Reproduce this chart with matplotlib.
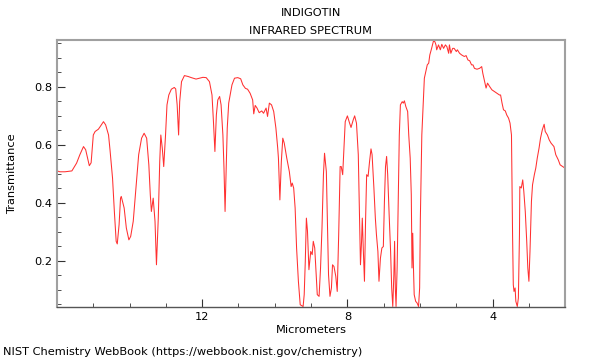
import matplotlib
matplotlib.use('Agg')
import matplotlib.pyplot as plt
import numpy as np
from matplotlib.ticker import MultipleLocator, FixedLocator

# wavelength (micrometers) and transmittance
microns = [16.00, 15.92, 15.78, 15.59, 15.46, 15.37, 15.27, 15.21, 15.11, 15.06,
           15.00, 14.95, 14.86, 14.81, 14.72, 14.66, 14.58, 14.54, 14.47, 14.42,
           14.37, 14.34, 14.29, 14.25, 14.23, 14.15, 14.09, 14.02, 13.97, 13.90,
           13.81, 13.75, 13.67, 13.60, 13.53, 13.47, 13.43, 13.40, 13.35, 13.30,
           13.26, 13.21, 13.17, 13.14, 13.10, 13.06, 13.01, 12.97, 12.92, 12.85,
           12.77, 12.73, 12.69, 12.65, 12.62, 12.57, 12.49, 12.39, 12.30, 12.17,
           12.07, 11.98, 11.89, 11.80, 11.73, 11.69, 11.65, 11.61, 11.57, 11.52,
           11.48, 11.43, 11.40, 11.37, 11.34, 11.31, 11.27, 11.23, 11.18, 11.11,
           11.02, 10.94, 10.88, 10.81, 10.75, 10.68, 10.61, 10.58, 10.54, 10.49,
           10.43, 10.36, 10.31, 10.24, 10.20, 10.15, 10.09, 10.03, 9.97, 9.92,
           9.90, 9.86, 9.82, 9.78, 9.74, 9.67, 9.60, 9.55, 9.52, 9.48,
           9.44, 9.40, 9.35, 9.30, 9.22, 9.19, 9.16, 9.13, 9.10, 9.06,
           9.01, 8.97, 8.94, 8.90, 8.87, 8.83, 8.78, 8.74, 8.70, 8.66,
           8.63, 8.58, 8.55, 8.52, 8.48, 8.44, 8.41, 8.37, 8.32, 8.28,
           8.24, 8.20, 8.17, 8.13, 8.09, 8.06, 8.00, 7.94, 7.90, 7.84,
           7.80, 7.75, 7.70, 7.67, 7.64, 7.61, 7.59, 7.56, 7.53, 7.50,
           7.47, 7.43, 7.39, 7.35, 7.32, 7.27, 7.23, 7.20, 7.16, 7.13,
           7.09, 7.05, 7.01, 6.98, 6.95, 6.92, 6.89, 6.85, 6.81, 6.78,
           6.75, 6.72, 6.70, 6.68, 6.66, 6.63, 6.60, 6.57, 6.54, 6.49,
           6.46, 6.43, 6.39, 6.34, 6.31, 6.27, 6.24, 6.23, 6.22, 6.20,
           6.18, 6.16, 6.12, 6.08, 6.04, 6.01, 5.99, 5.95, 5.91, 5.88,
           5.84, 5.80, 5.76, 5.73, 5.68, 5.63, 5.59, 5.56, 5.54, 5.49,
           5.44, 5.40, 5.35, 5.30, 5.26, 5.21, 5.19, 5.15, 5.10, 5.06,
           5.00, 4.97, 4.91, 4.85, 4.78, 4.73, 4.68, 4.63, 4.58, 4.54,
           4.50, 4.43, 4.36, 4.30, 4.27, 4.22, 4.18, 4.14, 4.08, 4.02,
           3.95, 3.88, 3.81, 3.78, 3.74, 3.70, 3.65, 3.61, 3.56, 3.52,
           3.48, 3.47, 3.45, 3.43, 3.41, 3.38, 3.36, 3.32, 3.29, 3.26,
           3.25, 3.21, 3.17, 3.14, 3.10, 3.06, 3.03, 3.00, 2.97, 2.93,
           2.90, 2.85, 2.81, 2.77, 2.72, 2.68, 2.63, 2.58, 2.55, 2.49,
           2.44, 2.39, 2.31, 2.26, 2.19, 2.14, 2.07, 2.01]

transmittance = [0.510, 0.507, 0.507, 0.510, 0.537, 0.566, 0.594, 0.583, 0.528, 0.538,
                 0.634, 0.646, 0.654, 0.663, 0.680, 0.669, 0.634, 0.583, 0.485, 0.370,
                 0.267, 0.258, 0.324, 0.416, 0.422, 0.382, 0.313, 0.272, 0.284, 0.336,
                 0.473, 0.566, 0.623, 0.640, 0.623, 0.531, 0.428, 0.370, 0.416, 0.336,
                 0.186, 0.347, 0.542, 0.634, 0.589, 0.525, 0.634, 0.738, 0.772, 0.792,
                 0.798, 0.793, 0.738, 0.634, 0.749, 0.818, 0.839, 0.836, 0.832, 0.827,
                 0.830, 0.833, 0.832, 0.818, 0.772, 0.680, 0.577, 0.703, 0.755, 0.767,
                 0.738, 0.634, 0.520, 0.370, 0.520, 0.658, 0.744, 0.772, 0.807, 0.830,
                 0.832, 0.828, 0.807, 0.795, 0.792, 0.778, 0.755, 0.707, 0.736, 0.727,
                 0.711, 0.717, 0.709, 0.727, 0.698, 0.744, 0.738, 0.715, 0.658, 0.589,
                 0.554, 0.410, 0.542, 0.623, 0.606, 0.554, 0.508, 0.456, 0.468, 0.451,
                 0.382, 0.244, 0.129, 0.048, 0.042, 0.083, 0.198, 0.347, 0.303, 0.169,
                 0.232, 0.221, 0.267, 0.244, 0.175, 0.083, 0.077, 0.175, 0.313, 0.497,
                 0.571, 0.508, 0.336, 0.152, 0.077, 0.106, 0.186, 0.180, 0.146, 0.094,
                 0.290, 0.525, 0.525, 0.497, 0.600, 0.680, 0.700, 0.675, 0.660, 0.686,
                 0.700, 0.675, 0.566, 0.382, 0.186, 0.267, 0.347, 0.232, 0.129, 0.336,
                 0.497, 0.491, 0.542, 0.586, 0.566, 0.451, 0.347, 0.290, 0.232, 0.129,
                 0.209, 0.244, 0.249, 0.405, 0.525, 0.560, 0.497, 0.359, 0.232, 0.106,
                 0.042, 0.152, 0.267, 0.106, 0.042, 0.175, 0.405, 0.634, 0.738, 0.749,
                 0.744, 0.752, 0.732, 0.715, 0.634, 0.554, 0.428, 0.290, 0.175, 0.295,
                 0.175, 0.083, 0.060, 0.054, 0.042, 0.106, 0.347, 0.634, 0.749, 0.830,
                 0.853, 0.876, 0.882, 0.910, 0.933, 0.958, 0.956, 0.945, 0.928, 0.945,
                 0.928, 0.947, 0.933, 0.945, 0.939, 0.916, 0.945, 0.916, 0.933, 0.933,
                 0.922, 0.928, 0.916, 0.910, 0.905, 0.908, 0.893, 0.890, 0.876, 0.876,
                 0.864, 0.861, 0.864, 0.870, 0.847, 0.818, 0.796, 0.813, 0.801, 0.790,
                 0.784, 0.778, 0.772, 0.772, 0.744, 0.721, 0.717, 0.703, 0.692, 0.675,
                 0.634, 0.520, 0.290, 0.117, 0.094, 0.106, 0.060, 0.042, 0.071, 0.290,
                 0.456, 0.451, 0.479, 0.439, 0.370, 0.267, 0.175, 0.129, 0.232, 0.405,
                 0.462, 0.497, 0.520, 0.554, 0.589, 0.623, 0.652, 0.671, 0.646, 0.634,
                 0.617, 0.606, 0.594, 0.566, 0.548, 0.531, 0.525, 0.520]

fig = plt.figure(figsize=(6, 3.6), dpi=100)
ax = fig.add_axes([0.095, 0.147, 0.847, 0.742])

ax.plot(microns, transmittance, color='#ff3030', linewidth=0.75)

ax.set_xlim(16, 2)
ax.set_ylim(0.04, 0.962)

ax.xaxis.set_major_locator(FixedLocator([12, 8, 4]))
ax.xaxis.set_minor_locator(MultipleLocator(1))
ax.yaxis.set_major_locator(FixedLocator([0.2, 0.4, 0.6, 0.8]))
ax.yaxis.set_minor_locator(MultipleLocator(0.05))
ax.set_yticklabels(['0.2', '0.4', '0.6', '0.8'])

ax.tick_params(which='both', direction='in', labelsize=8.2, colors='#333333', labelcolor='black')
ax.tick_params(which='major', length=6, width=0.8)
ax.tick_params(which='minor', length=3, width=0.6)

for s in ax.spines.values():
    s.set_color('#a0a0a0')
    s.set_linewidth(1.5)
ax.spines['bottom'].set_color('#555555')
ax.spines['bottom'].set_linewidth(1)

ax.set_xlabel('Micrometers', fontsize=8.2, labelpad=2)
ax.set_ylabel('Transmittance', fontsize=8.2)
ax.yaxis.set_label_coords(-0.078, 0.5)

fig.text(0.518, 0.965, 'INDIGOTIN', ha='center', va='center', fontsize=8.2)
fig.text(0.518, 0.915, 'INFRARED SPECTRUM', ha='center', va='center', fontsize=8.2)
fig.text(0.005, 0.022, 'NIST Chemistry WebBook (https://webbook.nist.gov/chemistry)',
         ha='left', va='center', fontsize=8.2)

plt.savefig('out.png', dpi=100)
